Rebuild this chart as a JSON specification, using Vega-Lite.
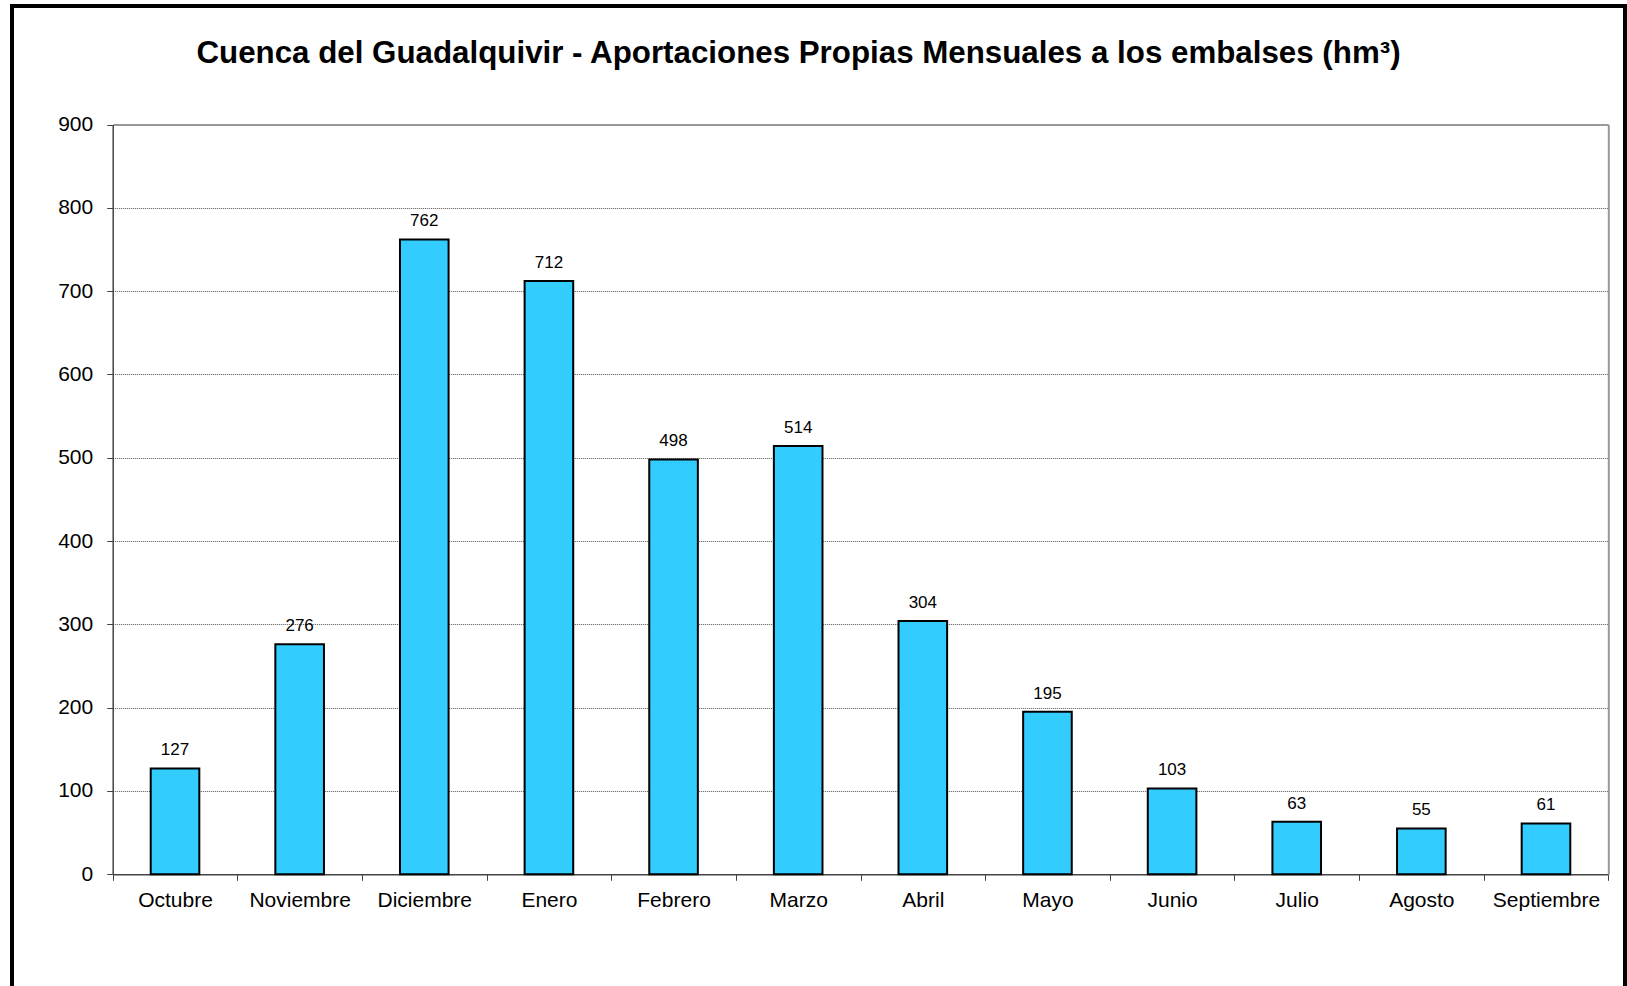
{
  "$schema": "https://vega.github.io/schema/vega-lite/v6.json",
  "width": 1613,
  "height": 984,
  "autosize": "none",
  "padding": {"left": 12, "top": 6, "right": 2, "bottom": 0},
  "background": "white",
  "config": {
    "view": {"stroke": "black", "strokeWidth": 4, "fill": "white"},
    "font": "Liberation Sans",
    "axis": {"labelFont": "Liberation Sans", "labelColor": "black"}
  },
  "title": {
    "text": "Cuenca del Guadalquivir - Aportaciones Propias Mensuales a los embalses (hm³)",
    "fontSize": 31.3,
    "fontWeight": "bold",
    "font": "Liberation Sans",
    "color": "black",
    "anchor": "middle",
    "frame": "group",
    "baseline": "alphabetic",
    "offset": -88,
    "dx": -20
  },
  "data": {
    "values": [
      {"mes": "Octubre", "valor": 127},
      {"mes": "Noviembre", "valor": 276},
      {"mes": "Diciembre", "valor": 762},
      {"mes": "Enero", "valor": 712},
      {"mes": "Febrero", "valor": 498},
      {"mes": "Marzo", "valor": 514},
      {"mes": "Abril", "valor": 304},
      {"mes": "Mayo", "valor": 195},
      {"mes": "Junio", "valor": 103},
      {"mes": "Julio", "valor": 63},
      {"mes": "Agosto", "valor": 55},
      {"mes": "Septiembre", "valor": 61}
    ]
  },
  "layer": [
    {
      "mark": {"type": "bar", "fill": "#33CCFF", "stroke": "black", "strokeWidth": 2, "width": {"band": 0.39}},
      "encoding": {
        "x": {
          "field": "mes", "type": "nominal", "sort": null,
          "scale": {"range": [100.7, 1596.3], "paddingInner": 0, "paddingOuter": 0},
          "axis": {
            "orient": "bottom", "offset": -115.7, "title": null, "labelAngle": 0,
            "labelFontSize": 21, "labelPadding": 9, "tickBand": "extent", "tickSize": 6,
            "tickColor": "#444", "domainColor": "#444", "domainWidth": 1.5, "grid": false
          }
        },
        "y": {
          "field": "valor", "type": "quantitative",
          "scale": {"domain": [0, 900], "range": [868.3, 118.5], "nice": false},
          "axis": {
            "orient": "left", "offset": -100.7, "title": null,
            "values": [0, 100, 200, 300, 400, 500, 600, 700, 800, 900],
            "labelFontSize": 21, "labelPadding": 14, "tickSize": 6,
            "tickColor": "#444", "domainColor": "#444", "domainWidth": 1.5,
            "grid": true, "gridColor": "#555", "gridDash": [1, 1], "gridWidth": 1
          }
        }
      }
    },
    {
      "mark": {"type": "text", "baseline": "alphabetic", "dy": -13, "fontSize": 17, "color": "black"},
      "encoding": {
        "x": {
          "field": "mes", "type": "nominal", "sort": null,
          "scale": {"range": [100.7, 1596.3], "paddingInner": 0, "paddingOuter": 0},
          "axis": {
            "orient": "top", "offset": -118.5, "title": null, "labels": false, "ticks": false,
            "grid": false, "domainColor": "#999", "domainWidth": 2
          }
        },
        "y": {
          "field": "valor", "type": "quantitative",
          "scale": {"domain": [0, 900], "range": [868.3, 118.5], "nice": false},
          "axis": {
            "orient": "right", "offset": -16.7, "title": null, "labels": false, "ticks": false,
            "grid": false, "domainColor": "#999", "domainWidth": 2
          }
        },
        "text": {"field": "valor", "type": "quantitative"}
      }
    }
  ],
  "resolve": {"axis": {"x": "independent", "y": "independent"}}
}
